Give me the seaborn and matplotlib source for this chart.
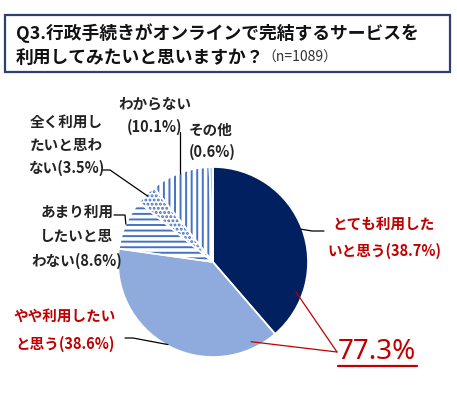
import matplotlib.pyplot as plt
import numpy as np
import seaborn as sns
from matplotlib.patches import Rectangle

sns.set_theme(style="white")
plt.rcParams['font.family'] = ['Noto Sans CJK JP', 'DejaVu Sans']
plt.rcParams['hatch.linewidth'] = 1.4

categories = ["とても利用したいと思う", "やや利用したいと思う", "あまり利用したいと思わない",
              "全く利用したいと思わない", "わからない", "その他"]
shares = [38.7, 38.6, 8.6, 3.5, 10.1, 0.6]
labels = ["とても利用した\nいと思う(38.7%)", "やや利用したい\nと思う(38.6%)",
          "あまり利用\nしたいと思\nわない(8.6%)", "全く利用し\nたいと思わ\nない(3.5%)",
          "わからない\n(10.1%)", "その他\n(0.6%)"]
total_label = "77.3%"

navy = "#002060"
light = "#8faadc"
stripe = "#4472c4"
red = "#c00000"
faces = [navy, light, "white", "white", "white", "#b4c7e7"]
hatches = [None, None, "---", "....", "|||", None]

W, H = 457, 393
fig = plt.figure(figsize=(W / 100, H / 100), dpi=100)
ax = fig.add_axes([0, 0, 1, 1])

cx, cy, R = 213, 131, 95
wedges, _ = ax.pie(shares, startangle=90, counterclock=False, colors=faces,
                   center=(cx, cy), radius=R, frame=True,
                   wedgeprops=dict(linewidth=0))
for w, h in zip(wedges, hatches):
    if h:
        w.set_hatch(h)
        w.set_edgecolor(stripe)
        w.set_linewidth(0)
ax.pie(shares, startangle=90, counterclock=False, colors=["none"] * 6,
       center=(cx, cy), radius=R, frame=True,
       wedgeprops=dict(linewidth=1.2, edgecolor="white"))
ax.set_xlim(0, W)
ax.set_ylim(0, H)
ax.set_aspect("equal")
ax.axis("off")

cum = np.concatenate([[0], np.cumsum(shares)])
tot = cum[-1]


def edge_point(i, frac=0.5, r=1.0):
    a = np.deg2rad(90 - 360 * (cum[i] + frac * shares[i]) / tot)
    return cx + r * R * np.cos(a), cy + r * R * np.sin(a)


lkw = dict(color="black", lw=0.9)
# label text and leader lines
txt = dict(fontsize=10.5, fontweight="bold")
dark = "#222222"
ax.text(384, H - 237, labels[0], color=red, ha="center", va="center", linespacing=1.85, **txt)
p = edge_point(0, 0.5, 0.99)
ax.plot([p[0], 312, 324], [p[1], H - 231, H - 231], **lkw)

ax.text(65, H - 330, labels[1], color=red, ha="center", va="center", linespacing=1.95, **txt)
p = edge_point(1, 0.5, 0.99)
ax.plot([p[0], 133, 125], [p[1], H - 338, H - 338], **lkw)

ax.text(77, H - 236, labels[2], color=dark, ha="center", va="center", linespacing=1.65, **txt)
p = edge_point(2, 0.5, 1.0)
ax.plot([p[0], 125, 114], [p[1], H - 215, H - 215], **lkw)

ax.text(66, H - 145, labels[3], color=dark, ha="center", va="center", linespacing=1.55, **txt)
p = edge_point(3, 0.5, 0.98)
ax.plot([p[0], 110, 103], [p[1], H - 170, H - 170], **lkw)

ax.text(155, H - 115, labels[4], color=dark, ha="center", va="center", linespacing=1.55, **txt)
p = edge_point(4, 0.5, 1.0)
ax.plot([p[0], p[0]], [p[1], H - 132], **lkw)

ax.text(189, H - 141, labels[5], color=dark, ha="left", va="center", linespacing=1.5, **txt)

# total of the two positive answers
ax.text(377, H - 352, total_label, color=red, fontsize=20, ha="center", va="center",
        fontfamily=["Noto Sans", "DejaVu Sans"])
ax.plot([338, 417], [H - 366, H - 366], color=red, lw=1.6)
for i, fr in [(0, 0.79), (1, 0.11)]:
    p = edge_point(i, fr, 0.93)
    ax.plot([p[0], 337], [p[1], H - 352], color=red, lw=0.9)

# title box
fig.patches.append(Rectangle((5 / W, 1 - 72 / H), 445 / W, 57 / H, transform=fig.transFigure,
                             fill=False, edgecolor="#2f3f6f", linewidth=1.6))
fig.text(16 / W, 1 - 33 / H, "Q3.行政手続きがオンラインで完結するサービスを",
         fontsize=12.8, fontweight="bold", color="#111111", va="center")
fig.text(16 / W, 1 - 58 / H, "利用してみたいと思いますか？",
         fontsize=12.8, fontweight="bold", color="#111111", va="center")
fig.text(262 / W, 1 - 58 / H, "（n=1089）", fontsize=10, color="#333333", va="center")

fig.savefig("out.png", dpi=100, facecolor="white")
